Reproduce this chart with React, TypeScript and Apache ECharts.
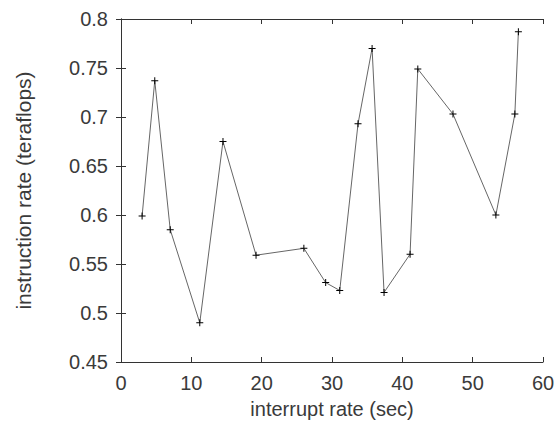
import React, { useEffect, useRef } from "react";
import * as echarts from "echarts";

const xValues = [3.0, 4.8, 7.0, 11.2, 14.5, 19.2, 26.0, 29.1, 31.1, 33.7, 35.7, 37.4, 41.1, 42.2, 47.2, 53.3, 56.0, 56.5];
const yValues = [0.599, 0.737, 0.585, 0.49, 0.675, 0.559, 0.566, 0.531, 0.523, 0.693, 0.77, 0.521, 0.56, 0.749, 0.703, 0.6, 0.703, 0.787];
const xTitle = "interrupt rate (sec)";
const yTitle = "instruction rate (teraflops)";

const PLUS = "path://M3,0h1v3h3v1h-3v3h-1v-3h-3v-1h3z";
const FONT = "Liberation Sans";
const TEXT = "#3a3a3a";
const AXIS = "#333";

export default function App() {
  const ref = useRef<HTMLDivElement>(null);
  useEffect(() => {
    const chart = echarts.init(ref.current!, null, { renderer: "svg" });
    const axisCommon = {
      axisLine: { show: true, lineStyle: { color: AXIS, width: 1 } },
      axisTick: { show: true, inside: true, length: 5, lineStyle: { color: AXIS } },
      splitLine: { show: false },
    };
    chart.setOption({
      animation: false,
      backgroundColor: "#fff",
      grid: { left: 121, right: 16, top: 19, bottom: 72 },
      xAxis: [
        {
          type: "value",
          min: 0,
          max: 60,
          interval: 10,
          position: "bottom",
          name: xTitle,
          nameLocation: "middle",
          nameGap: 37,
          nameTextStyle: { fontFamily: FONT, fontSize: 20, color: TEXT },
          axisLabel: { fontFamily: FONT, fontSize: 20, color: TEXT, margin: 11 },
          ...axisCommon,
        },
        {
          type: "value",
          min: 0,
          max: 60,
          interval: 10,
          position: "top",
          axisLabel: { show: false },
          ...axisCommon,
        },
      ],
      yAxis: [
        {
          type: "value",
          min: 0.45,
          max: 0.8,
          interval: 0.05,
          position: "left",
          name: yTitle,
          nameLocation: "middle",
          nameGap: 87,
          nameTextStyle: { fontFamily: FONT, fontSize: 21, color: TEXT },
          axisLabel: {
            fontFamily: FONT,
            fontSize: 20,
            color: TEXT,
            margin: 13,
            formatter: (v: number) => String(parseFloat(v.toFixed(2))),
          },
          ...axisCommon,
        },
        {
          type: "value",
          min: 0.45,
          max: 0.8,
          interval: 0.05,
          position: "right",
          axisLabel: { show: false },
          ...axisCommon,
        },
      ],
      series: [
        {
          type: "line",
          data: xValues.map((x, i) => [x, yValues[i]]),
          symbol: PLUS,
          symbolSize: 7,
          showAllSymbol: true,
          lineStyle: { color: "#666", width: 1 },
          itemStyle: { color: "#000" },
        },
      ],
    });
    return () => chart.dispose();
  }, []);
  return <div ref={ref} style={{ position: "fixed", left: 0, top: 0, width: 559, height: 434 }} />;
}
